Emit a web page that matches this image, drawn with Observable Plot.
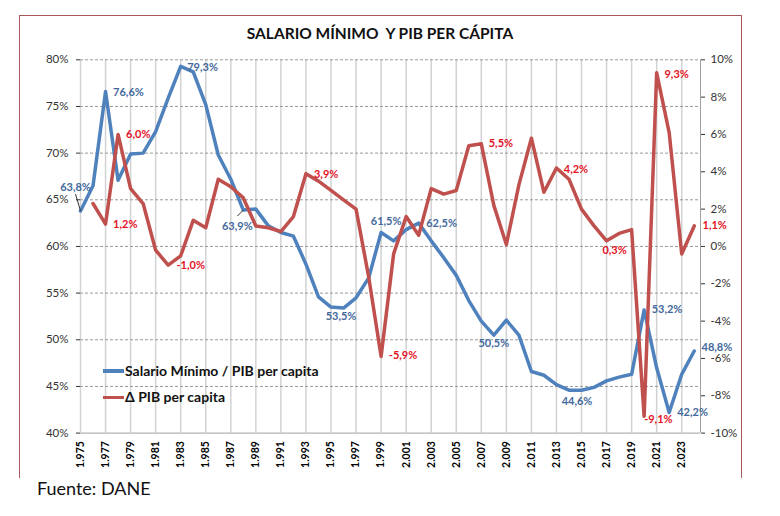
<!DOCTYPE html>
<html><head><meta charset="utf-8">
<script src="https://cdn.jsdelivr.net/npm/d3@7"></script>
<script src="https://cdn.jsdelivr.net/npm/@observablehq/plot@0.6"></script>
<style>
body{margin:0;background:#fff;font-family:Lato,"Open Sans",sans-serif;}
#wrap{position:relative;width:780px;height:516px;overflow:hidden;background:#fff;}
#frame{position:absolute;left:19px;top:15px;width:723px;height:463px;border:1.5px solid #a85a5a;border-bottom:none;box-sizing:border-box;}
#title{position:absolute;left:0;top:23px;width:760px;text-align:center;font-weight:bold;font-size:15.5px;line-height:20px;white-space:pre;color:#111;}
#chart{position:absolute;left:0;top:45px;}
#source{position:absolute;left:37px;top:478px;font-size:18px;line-height:20px;color:#111;}
.leg{position:absolute;font-weight:bold;font-size:14px;line-height:16px;color:#111;white-space:nowrap;}
.legline{position:absolute;height:3.5px;width:21px;}
</style></head><body>
<div id="wrap">
<div id="frame"></div>
<div id="title">SALARIO MÍNIMO  Y PIB PER CÁPITA</div>
<div id="chart"></div>
<div class="legline" style="left:103px;top:369px;background:#4F81BD"></div>
<div class="leg" style="left:125px;top:363px">Salario Mínimo / PIB per capita</div>
<div class="legline" style="left:103px;top:395.5px;background:#C0504D"></div>
<div class="leg" style="left:125px;top:389px">Δ PIB per capita</div>
<div id="source">Fuente: DANE</div>
</div>
<script>
// ---- data ----
const years = [1975,1976,1977,1978,1979,1980,1981,1982,1983,1984,1985,1986,1987,1988,1989,1990,1991,1992,1993,1994,1995,1996,1997,1998,1999,2000,2001,2002,2003,2004,2005,2006,2007,2008,2009,2010,2011,2012,2013,2014,2015,2016,2017,2018,2019,2020,2021,2022,2023,2024];
const salarioMinimoPib = [63.8,66.5,76.6,67.1,69.9,70.0,72.3,75.9,79.3,78.7,75.2,69.8,67.2,63.9,64.0,62.2,61.5,61.1,58.1,54.6,53.5,53.4,54.5,56.6,61.5,60.6,61.8,62.5,60.6,58.8,56.9,54.2,52.0,50.5,52.1,50.5,46.6,46.2,45.2,44.6,44.6,44.9,45.6,46.0,46.3,53.2,47.0,42.2,46.3,48.8];
const pibYears = [1976,1977,1978,1979,1980,1981,1982,1983,1984,1985,1986,1987,1988,1989,1990,1991,1992,1993,1994,1995,1996,1997,1998,1999,2000,2001,2002,2003,2004,2005,2006,2007,2008,2009,2010,2011,2012,2013,2014,2015,2016,2017,2018,2019,2020,2021,2022,2023,2024];
const pibPerCapitaChange = [2.3,1.2,6.0,3.1,2.3,-0.2,-1.0,-0.5,1.4,1.0,3.6,3.2,2.6,1.1,1.0,0.8,1.6,3.9,3.5,3.0,2.5,2.0,-1.6,-5.9,-0.4,1.6,0.6,3.1,2.8,3.0,5.4,5.5,2.2,0.1,3.3,5.8,2.9,4.2,3.6,2.0,1.1,0.3,0.7,0.9,-9.1,9.3,6.1,-0.4,1.1];
const xTickYears = [1975,1977,1979,1981,1983,1985,1987,1989,1991,1993,1995,1997,1999,2001,2003,2005,2007,2009,2011,2013,2015,2017,2019,2021,2023];
const leftTicks = [40,45,50,55,60,65,70,75,80];
const rightTicks = [-10,-8,-6,-4,-2,0,2,4,6,8,10];
const blueLabelYears = [1975,1977,1983,1988,1995,1999,2002,2008,2015,2020,2022,2024];
const redLabelYears = [1977,1978,1982,1993,1999,2007,2013,2017,2020,2021,2024];

// ---- layout / style (not data) ----
const blueLabelPlace = [
  {dx:-5,dy:-24,a:"middle"},{dx:7.5,dy:1,a:"start"},{dx:6.5,dy:1,a:"start"},{dx:-6,dy:16,a:"middle"},
  {dx:10,dy:9.5,a:"middle"},{dx:5,dy:-11,a:"middle"},{dx:7.5,dy:0,a:"start"},{dx:0,dy:8.5,a:"middle"},
  {dx:-4.5,dy:11.5,a:"middle"},{dx:7.5,dy:0,a:"start"},{dx:8,dy:0,a:"start"},{dx:7.3,dy:-4,a:"start"}];
const redLabelPlace = [
  {dx:7.5,dy:0,a:"start"},{dx:8,dy:0,a:"start"},{dx:8.3,dy:0,a:"start"},{dx:8,dy:1,a:"start"},
  {dx:7.7,dy:-1,a:"start"},{dx:7.4,dy:0,a:"start"},{dx:7.3,dy:1,a:"start"},{dx:8,dy:10,a:"middle"},
  {dx:0,dy:3,a:"start"},{dx:7.8,dy:1.5,a:"start"},{dx:8.3,dy:0,a:"start"}];

const BLUE = "#4F81BD", RED = "#C0504D", BLUE_TXT = "#44699c", RED_TXT = "#e3121f";
const toLeft = r => 60 + 2 * r;             // right axis (-10..10) onto left axis (40..80)
const fmtPct = v => v.toFixed(1).replace(".", ",") + "%";

const blue = years.map((year, i) => ({year, v: salarioMinimoPib[i]}));
const red = pibYears.map((year, i) => ({year, r: pibPerCapitaChange[i], y: toLeft(pibPerCapitaChange[i])}));
const blueByYear = new Map(blue.map(d => [d.year, d]));
const redByYear = new Map(red.map(d => [d.year, d]));

const labelMarks = [];
blueLabelYears.forEach((yr, i) => {
  const d = blueByYear.get(yr), p = blueLabelPlace[i];
  labelMarks.push(Plot.text([d], {x: "year", y: "v", text: d => fmtPct(d.v), dx: p.dx, dy: p.dy, textAnchor: p.a,
    fill: BLUE_TXT, fontWeight: "bold", fontSize: 11}));
});
redLabelYears.forEach((yr, i) => {
  const d = redByYear.get(yr), p = redLabelPlace[i];
  labelMarks.push(Plot.text([d], {x: "year", y: "y", text: d => fmtPct(d.r), dx: p.dx, dy: p.dy, textAnchor: p.a,
    fill: RED_TXT, fontWeight: "bold", fontSize: 11}));
});

// leader lines (pixel offsets converted through the scale ratios)
const pxX = 620 / 49.5, pxY = 373.4 / 40;
const leaders = [
  {d: blueByYear.get(1975), ox: -5, oy: -17},
  {d: blueByYear.get(1988), ox: -6, oy: 6}
].map(({d, ox, oy}) => ({x1: d.year, y1: d.v, x2: d.year + ox / pxX, y2: d.v - oy / pxY}));

const chart = Plot.plot({
  width: 780,
  height: 435,
  marginTop: 14.3,
  marginBottom: 47.4,
  marginLeft: 80,
  marginRight: 80,
  style: {fontFamily: "Lato, 'Open Sans', sans-serif", background: "transparent", overflow: "visible"},
  x: {domain: [1975, 2024.5]},
  y: {domain: [40, 80]},
  marks: [
    Plot.ruleX(xTickYears, {x: d => d, y1: 40, y2: 80, stroke: "#d2d2d2", strokeWidth: 1.5}),
    Plot.ruleY(leftTicks.filter(d => d > 40), {y: d => d, x1: 1975, x2: 2024.5, stroke: "#999", strokeDasharray: "3,2"}),
    Plot.ruleY([40], {x1: 1975, x2: 2024.5, stroke: "#a0a0a0"}),
    Plot.ruleX([2024.5], {y1: 40, y2: 80, stroke: "#a0a0a0"}),
    Plot.axisY({ticks: leftTicks, tickFormat: d => d + "%", anchor: "left", tickSize: 4, tickPadding: 8,
      fontSize: 11.5, label: null, color: "#333"}),
    Plot.axisY({ticks: rightTicks.map(toLeft), tickFormat: d => ((d - 60) / 2) + "%", anchor: "right",
      tickSize: 4, tickPadding: 6, fontSize: 11.5, label: null, color: "#333"}),
    Plot.axisX({ticks: xTickYears, tickFormat: d => String(d).slice(0, 1) + "." + String(d).slice(1),
      tickRotate: -90, tickSize: 0, tickPadding: 8, fontWeight: "bold", fontSize: 10.5, label: null, color: "#000"}),
    Plot.line(blue, {x: "year", y: "v", stroke: BLUE, strokeWidth: 3.5}),
    Plot.line(red, {x: "year", y: "y", stroke: RED, strokeWidth: 3.5}),
    Plot.link(leaders, {x1: "x1", y1: "y1", x2: "x2", y2: "y2", stroke: "#333", strokeWidth: 1}),
    ...labelMarks
  ]
});
document.getElementById("chart").appendChild(chart);
</script>
</body></html>
